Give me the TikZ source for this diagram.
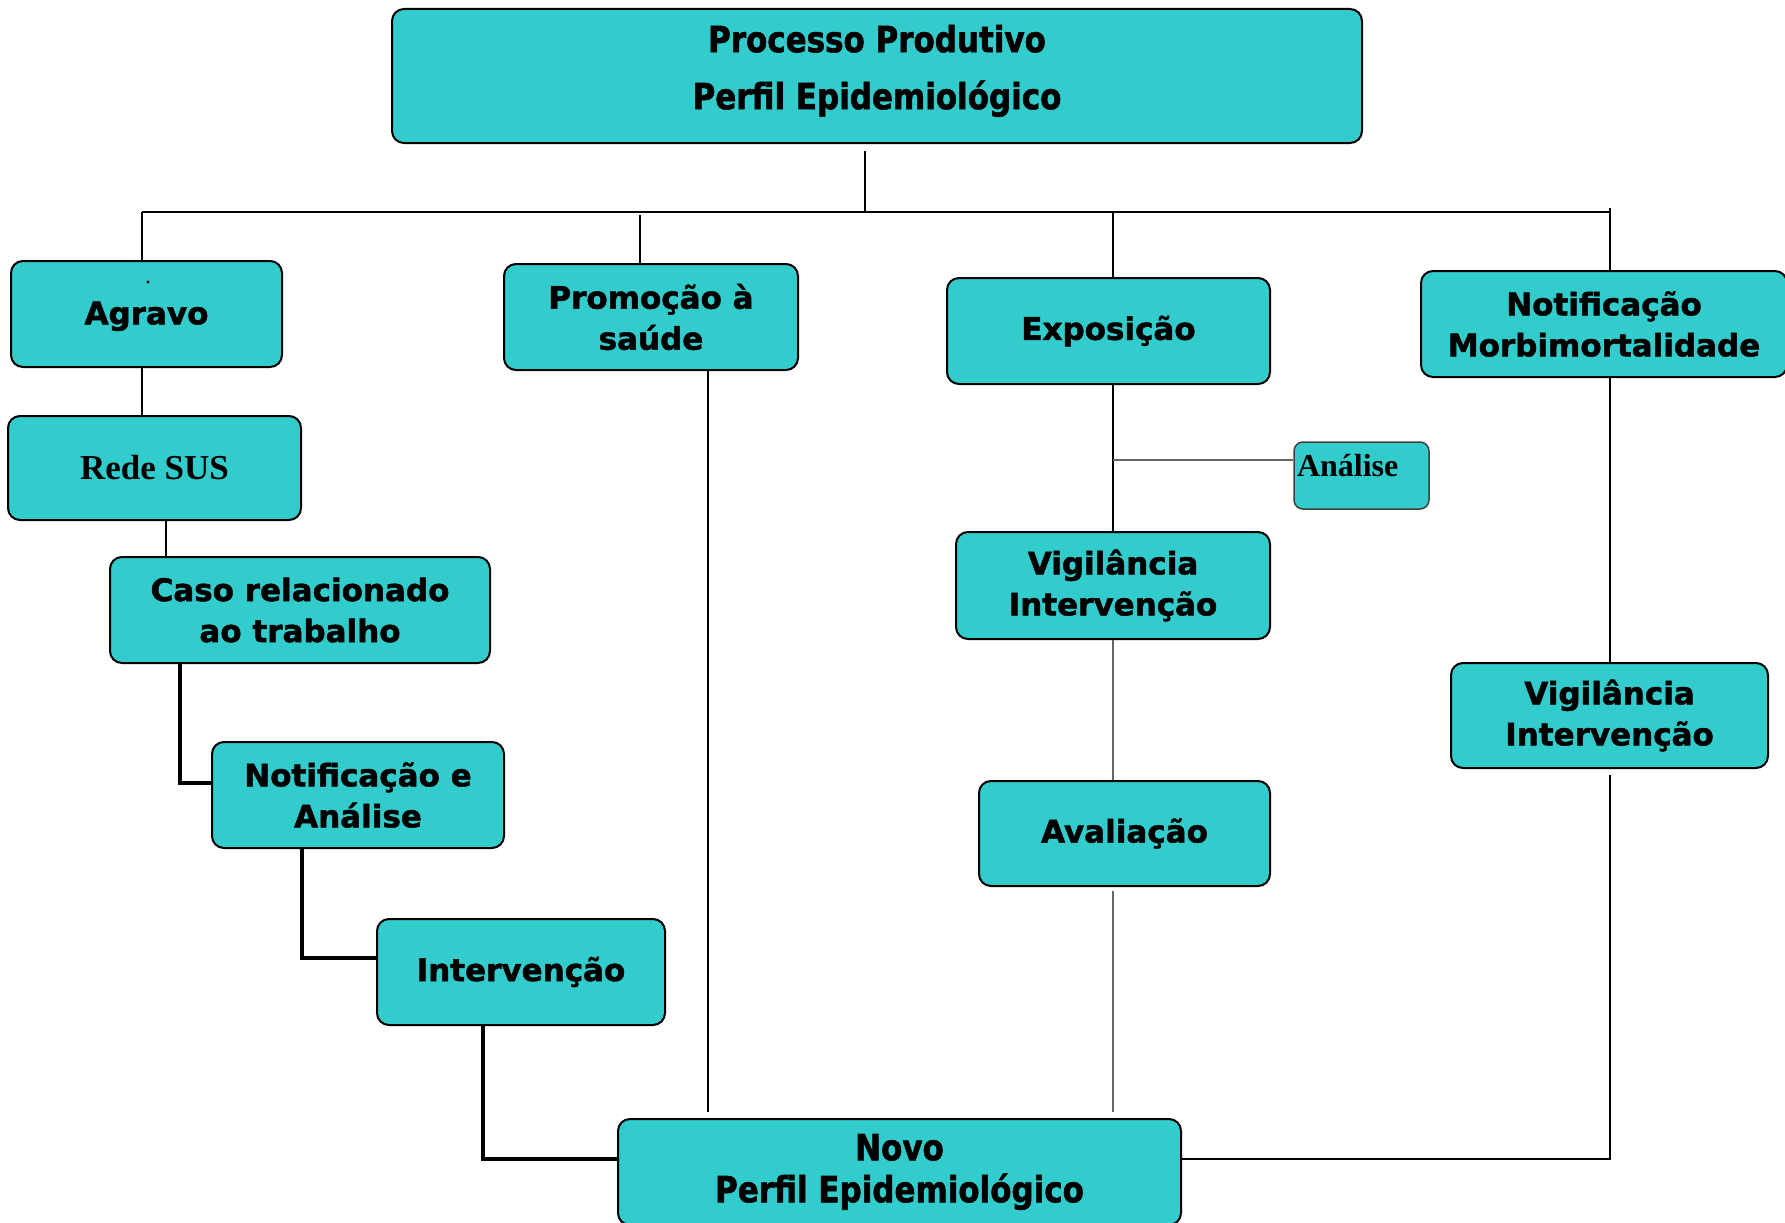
\documentclass[tikz,border=0pt]{standalone}
\usepackage{fontspec}
\setmainfont{DejaVu Sans}[BoldFeatures={FakeBold=1.6}]
\newfontfamily\condfont{DejaVu Sans}[FakeStretch=0.86, BoldFeatures={FakeBold=1.6}]
\newfontfamily\timesfont{Liberation Serif}
\usetikzlibrary{calc}
\definecolor{turq}{RGB}{51,204,204}

\begin{document}
\begin{tikzpicture}[x=1pt, y=-1pt,
    box/.style={draw=black, line width=2pt, fill=turq, rounded corners=12pt,
        align=center, inner sep=2pt, font=\bfseries\fontsize{31}{41}\selectfont},
    lnk/.style={black, line width=1.4pt},
    lnkg/.style={black!60, line width=1.2pt},
    elb/.style={black, line width=4.5pt}]
    \useasboundingbox (0,0) rectangle (1785,1223);
    % Boxes
    \node[box, minimum width=970pt, minimum height=134pt, text depth=18pt,
        font=\condfont\bfseries\fontsize{36}{57}\selectfont] (proc) at (877,76)
        {Processo Produtivo\\Perfil Epidemiológico};
    \node[box, minimum width=271pt, minimum height=106pt, text depth=2pt] (agr) at (146.5,314) {Agravo};
    \node[font=\bfseries\fontsize{12}{12}\selectfont, inner sep=0pt] (dot) at (148,282) {.};
    \node[box, minimum width=294pt, minimum height=106pt] (prom) at (651,317) {Promoção à\\saúde};
    \node[box, minimum width=323pt, minimum height=106pt] (expo) at (1108.5,331) {Exposição};
    \node[box, minimum width=366pt, minimum height=106pt] (notm) at (1604,324) {Notificação\\Morbimortalidade};
    \node[box, minimum width=293pt, minimum height=104pt,
        font=\timesfont\bfseries\fontsize{35}{40}\selectfont] (rede) at (154.5,468) {Rede SUS};
    \node[box, minimum width=380pt, minimum height=106pt] (caso) at (300,610) {Caso relacionado\\ao trabalho};
    \node[box, minimum width=292pt, minimum height=106pt] (nota) at (358,795) {Notificação e\\Análise};
    \node[box, minimum width=288pt, minimum height=106pt] (interv) at (521,972) {Intervenção};
    \node[box, minimum width=563pt, minimum height=106pt,
        font=\condfont\bfseries\fontsize{36}{42}\selectfont] (novo) at (899.5,1172)
        {Novo\\Perfil Epidemiológico};
    \node[box, minimum width=314pt, minimum height=107pt] (vig1) at (1113,585.5) {Vigilância\\Intervenção};
    \node[box, draw=black!75, line width=1.5pt, rounded corners=9pt, minimum width=135pt, minimum height=67pt,
        text width=129pt, align=left, inner sep=1pt, text depth=20pt,
        font=\timesfont\bfseries\fontsize{32}{36}\selectfont] (ana) at (1361.5,475.5) {Análise};
    \node[box, minimum width=291pt, minimum height=105pt] (aval) at (1124.5,833.5) {Avaliação};
    \node[box, minimum width=317pt, minimum height=105pt] (vig2) at (1609.5,715.5) {Vigilância\\Intervenção};

    % Top bus
    \coordinate (hub) at (865,212);
    \coordinate (busL) at (142,212);
    \coordinate (busR) at (1610,212);
    \coordinate (promtop) at (640,215);
    \coordinate (expotop) at (1113,212);
    \draw[lnk, shorten <=7pt] (proc.south -| hub) -- (hub);
    \draw[lnk] (busL) -- (busR);
    \draw[lnk] (busL) -- (busL |- agr.north);
    \draw[lnk] (promtop) -- (promtop |- prom.north);
    \draw[lnk] (expotop) -- (expotop |- expo.north);
    \draw[lnk] ([yshift=4pt]busR) -- (busR |- notm.north);

    % Left chain
    \coordinate (c1) at (166,0);
    \coordinate (e1) at (180,0);
    \coordinate (e2) at (302,0);
    \coordinate (e3) at (483,0);
    \draw[lnk] (busL |- agr.south) -- (busL |- rede.north);
    \draw[lnk] (c1 |- rede.south) -- (c1 |- caso.north);
    \draw[elb] (e1 |- caso.south) |- ([yshift=12pt]nota.west);
    \draw[elb] (e2 |- nota.south) |- ([yshift=14pt]interv.west);
    \draw[elb] (e3 |- interv.south) |- ([yshift=13pt]novo.west);

    % Promocao line
    \coordinate (pl) at (708,0);
    \draw[lnk, shorten >=6pt] (pl |- prom.south) -- (pl |- novo.north);

    % Exposicao column
    \coordinate (br) at (1113,460);
    \draw[lnk] (expotop |- expo.south) -- (expotop |- vig1.north);
    \draw[lnkg] (br) -- (br -| ana.west);
    \draw[lnkg] (expotop |- vig1.south) -- (expotop |- aval.north);
    \draw[lnkg, shorten <=4pt, shorten >=6pt] (expotop |- aval.south) -- (expotop |- novo.north);

    % Right column
    \draw[lnk] (busR |- notm.south) -- (busR |- vig2.north);
    \draw[lnk, shorten <=6pt] (busR |- vig2.south) |- ([yshift=13pt]novo.east);
\end{tikzpicture}
\end{document}
